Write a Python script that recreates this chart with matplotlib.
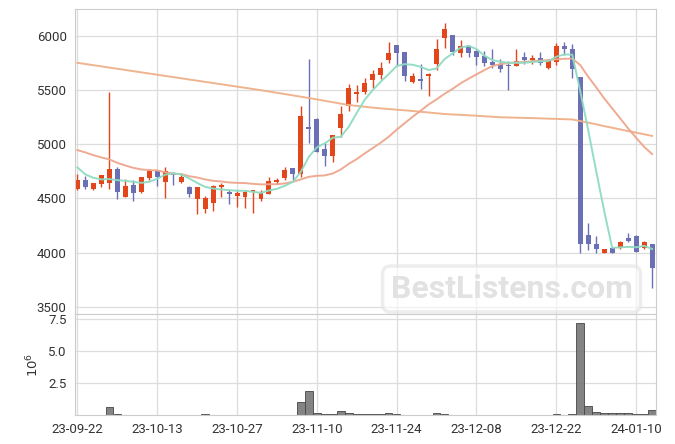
import numpy as np
import matplotlib
matplotlib.use("Agg")
import matplotlib.pyplot as plt
from matplotlib.ticker import FuncFormatter

# OHLC (73 trading days, 23-09-22 .. 24-01-12)
opens = [4584, 4669, 4584, 4635, 4644, 4771, 4515, 4620, 4556, 4691,
         4753, 4654, 4731, 4654, 4605, 4497, 4404, 4460, 4607, 4559,
         4524, 4515, 4560, 4491, 4543, 4648, 4691, 4780, 4725, 5159,
         5233, 4956, 4894, 5153, 5356, 5461, 5485, 5596, 5640, 5781,
         5917, 5849, 5578, 5593, 5633, 5744, 5984, 6009, 5846, 5908,
         5864, 5815, 5760, 5741, 5726, 5723, 5803, 5778, 5797, 5707,
         5763, 5908, 5877, 5618, 4161, 4084, 3998, 4038, 4038, 4134,
         4152, 4038, 4075]
highs = [4722, 4709, 4645, 4720, 5485, 4787, 4676, 4669, 4700, 4771,
         4760, 4787, 4743, 4731, 4617, 4610, 4522, 4620, 4644, 4577,
         4568, 4577, 4580, 4577, 4700, 4688, 4790, 4785, 5350, 5785,
         5240, 5008, 5090, 5350, 5554, 5544, 5615, 5683, 5763, 5947,
         5920, 5852, 5655, 5744, 5660, 5972, 6123, 6012, 5963, 5915,
         5870, 5864, 5877, 5785, 5772, 5877, 5849, 5824, 5852, 5790,
         5932, 5942, 5926, 5620, 4269, 4155, 4035, 4040, 4110, 4177,
         4160, 4109, 4078]
lows = [4580, 4589, 4580, 4602, 4584, 4494, 4510, 4475, 4550, 4669,
        4614, 4503, 4623, 4644, 4509, 4355, 4362, 4380, 4509, 4448,
        4423, 4414, 4362, 4478, 4540, 4630, 4669, 4669, 4694, 5008,
        4925, 4802, 4839, 5070, 5307, 5393, 5461, 5522, 5600, 5748,
        5723, 5581, 5566, 5510, 5446, 5686, 5886, 5824, 5809, 5803,
        5732, 5726, 5702, 5670, 5501, 5720, 5744, 5741, 5735, 5700,
        5735, 5824, 5609, 3992, 4023, 3998, 3995, 3995, 4035, 4094,
        4008, 4035, 3669]
closes = [4669, 4607, 4639, 4716, 4771, 4562, 4614, 4547, 4694, 4753,
          4700, 4753, 4715, 4694, 4543, 4605, 4500, 4611, 4626, 4543,
          4549, 4559, 4575, 4549, 4657, 4669, 4762, 4728, 5258, 5145,
          4928, 4894, 5082, 5279, 5517, 5485, 5563, 5649, 5707, 5843,
          5846, 5630, 5633, 5587, 5646, 5877, 6062, 5849, 5908, 5846,
          5809, 5753, 5735, 5698, 5721, 5769, 5778, 5794, 5753, 5769,
          5908, 5877, 5698, 4075, 4084, 4029, 4032, 3998, 4097, 4109,
          4010, 4094, 3860]
volumes = [8e3, 6e3, 5e3, 6e3, 600e3, 80e3, 5e3, 5e3, 4e3, 4e3,
           4e3, 5e3, 4e3, 4e3, 5e3, 6e3, 80e3, 6e3, 5e3, 4e3,
           4e3, 4e3, 5e3, 4e3, 6e3, 4e3, 5e3, 5e3, 1020e3, 1875e3,
           130e3, 80e3, 80e3, 310e3, 130e3, 60e3, 60e3, 60e3, 60e3, 150e3,
           80e3, 10e3, 8e3, 8e3, 10e3, 150e3, 80e3, 10e3, 5e3, 5e3,
           5e3, 5e3, 5e3, 5e3, 5e3, 5e3, 5e3, 5e3, 5e3, 5e3,
           60e3, 5e3, 60e3, 7160e3, 700e3, 230e3, 160e3, 160e3, 160e3, 160e3,
           80e3, 80e3, 360e3]

# moving averages as drawn in the reference
ma5 = [4787, 4722, 4691, 4676, 4679, 4669, 4663, 4654, 4644, 4654,
       4682, 4720, 4731, 4722, 4685, 4644, 4607, 4592, 4583, 4577,
       4571, 4571, 4561, 4552, 4574, 4589, 4617, 4654, 4746, 4885,
       4972, 5009, 5061, 5070, 5162, 5291, 5412, 5501, 5578, 5649,
       5723, 5741, 5735, 5716, 5686, 5701, 5787, 5840, 5892, 5910,
       5880, 5818, 5778, 5763, 5753, 5753, 5753, 5760, 5766, 5769,
       5809, 5831, 5828, 5490, 5130, 4750, 4384, 4044, 4048, 4053,
       4049, 4062, 4034]
ma20 = [4947, 4925, 4900, 4879, 4861, 4829, 4805, 4783, 4768, 4762,
        4759, 4742, 4731, 4725, 4706, 4694, 4676, 4663, 4657, 4648,
        4644, 4642, 4635, 4630, 4631, 4632, 4639, 4654, 4676, 4700,
        4709, 4713, 4731, 4768, 4820, 4864, 4916, 4965, 5015, 5070,
        5135, 5195, 5255, 5310, 5368, 5415, 5467, 5512, 5563, 5606,
        5646, 5686, 5723, 5741, 5750, 5757, 5760, 5769, 5772, 5778,
        5785, 5790, 5792, 5732, 5624, 5526, 5424, 5332, 5240, 5147,
        5060, 4977, 4910]
ma120 = [5753, 5742, 5731, 5720, 5709, 5698, 5687, 5676, 5665, 5654,
         5643, 5632, 5621, 5610, 5599, 5588, 5577, 5566, 5555, 5544,
         5533, 5522, 5511, 5500, 5488, 5476, 5464, 5452, 5440, 5428,
         5415, 5402, 5389, 5376, 5363, 5355, 5347, 5339, 5332, 5326,
         5320, 5314, 5308, 5301, 5294, 5287, 5280, 5276, 5272, 5268,
         5264, 5259, 5255, 5250, 5248, 5246, 5244, 5242, 5240, 5237,
         5235, 5232, 5230, 5215, 5200, 5185, 5168, 5153, 5138, 5122,
         5108, 5093, 5078]

tick_labels = ["23-09-22", "23-10-13", "23-10-27", "23-11-10",
               "23-11-24", "23-12-08", "23-12-22", "24-01-10"]

plt.rcParams['font.family'] = ['Roboto', 'DejaVu Sans']

UP = "#e2461a"
DOWN = "#6b6fb4"
GRID = "#dddddd"

o = np.array(opens); h = np.array(highs); l = np.array(lows); c = np.array(closes)
x = np.arange(len(c))
up = c >= o
colors = np.where(up, UP, DOWN)

fig = plt.figure(figsize=(6.75, 4.44), dpi=100)
ax = fig.add_axes([0.1111, 0.2921, 0.8603, 0.6869])
axv = fig.add_axes([0.1111, 0.0653, 0.8603, 0.2268], sharex=ax)

# candles
ax.vlines(x, l, h, colors=colors, linewidth=1.0, zorder=2)
body_lo = np.minimum(o, c)
body_h = np.maximum(np.abs(c - o), 12)
ax.bar(x, body_h, bottom=body_lo, width=0.62, color=colors, zorder=3)

# moving averages
ax.plot(x, ma120, color="#efb088", lw=1.4, alpha=0.95, zorder=4)
ax.plot(x, ma20, color="#eea68c", lw=1.4, alpha=0.95, zorder=4)
ax.plot(x, ma5, color="#8edcc2", lw=1.4, alpha=0.95, zorder=4)

ax.set_xlim(-0.3, 72.45)
ax.set_ylim(3430, 6247)
ax.set_yticks([3500, 4000, 4500, 5000, 5500, 6000])

# volume
axv.bar(x, volumes, width=0.95, color="#777777", edgecolor="#4a4a4a",
        linewidth=0.7, alpha=0.9, zorder=2)
axv.set_ylim(0, max(volumes) * 1.1)
axv.set_yticks([2.5e6, 5e6, 7.5e6])
axv.yaxis.set_major_formatter(FuncFormatter(lambda v, _: f"{v / 1e6:.1f}"))
axv.set_ylabel(r"$10^6$", fontsize=9.5, color="#333333", labelpad=5)

axv.set_xticks(np.arange(0, len(c), 10))
axv.set_xticklabels(tick_labels)

for a in (ax, axv):
    a.grid(True, color=GRID, linewidth=0.9)
    a.set_axisbelow(True)
    a.tick_params(length=0, labelsize=9.5, labelcolor="#333333", pad=6)
    for s in a.spines.values():
        s.set_color("#cccccc")
        s.set_zorder(5)
plt.setp(ax.get_xticklabels(), visible=False)

# watermark
fig.text(0.7578, 0.349, "BestListens.com", fontsize=23, fontweight="bold",
         color="#e2e2e2", ha="center", va="center", zorder=10,
         bbox=dict(boxstyle="round,pad=0.25", fc="white", ec="#e2e2e2",
                   lw=2.5, alpha=0.6))

fig.savefig("out.png", dpi=100)
